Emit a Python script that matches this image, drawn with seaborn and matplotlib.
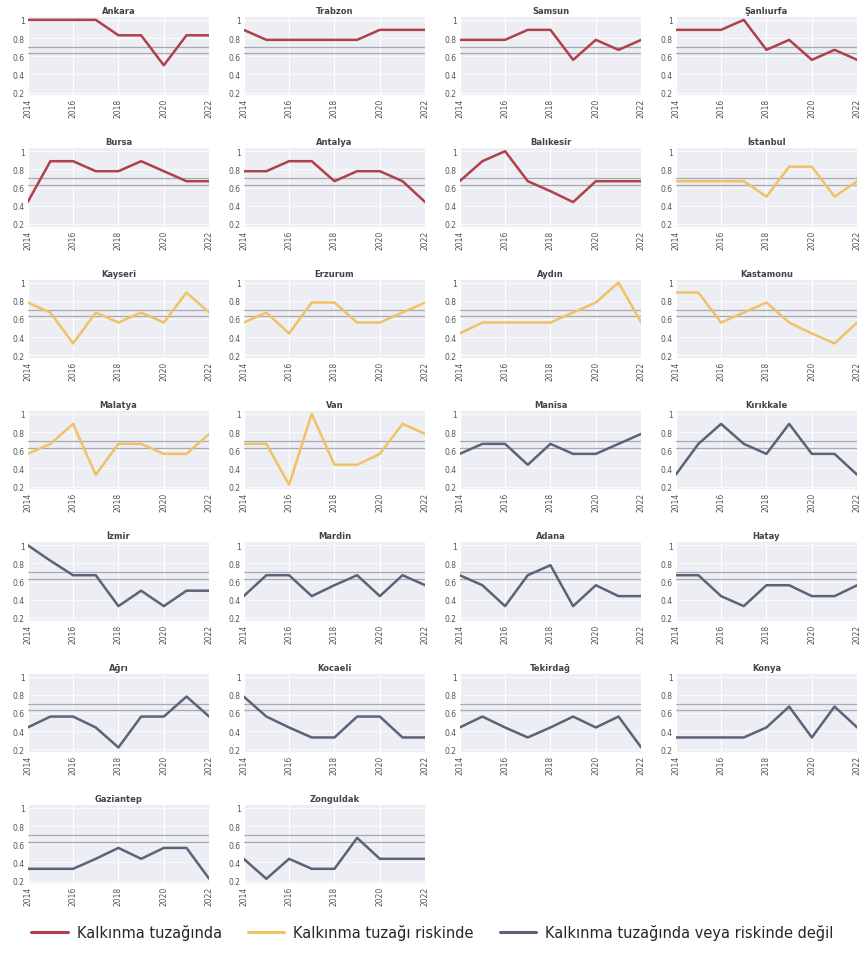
import numpy as np
import pandas as pd
import matplotlib
matplotlib.use("Agg")
import matplotlib.pyplot as plt
from matplotlib.lines import Line2D
import seaborn as sns

years = list(range(2014, 2023))

cities = ["Ankara", "Trabzon", "Samsun", "Şanlıurfa",
          "Bursa", "Antalya", "Balıkesir", "İstanbul",
          "Kayseri", "Erzurum", "Aydın", "Kastamonu",
          "Malatya", "Van", "Manisa", "Kırıkkale",
          "İzmir", "Mardin", "Adana", "Hatay",
          "Ağrı", "Kocaeli", "Tekirdağ", "Konya",
          "Gaziantep", "Zonguldak"]

# group: 0 = in trap, 1 = at risk, 2 = neither
groups = [0, 0, 0, 0,
          0, 0, 0, 1,
          1, 1, 1, 1,
          1, 1, 2, 2,
          2, 2, 2, 2,
          2, 2, 2, 2,
          2, 2]

ankara = [1, 1, 1, 1, 0.83, 0.83, 0.5, 0.83, 0.83]
trabzon = [0.89, 0.78, 0.78, 0.78, 0.78, 0.78, 0.89, 0.89, 0.89]
samsun = [0.78, 0.78, 0.78, 0.89, 0.89, 0.56, 0.78, 0.67, 0.78]
sanliurfa = [0.89, 0.89, 0.89, 1, 0.67, 0.78, 0.56, 0.67, 0.56]
bursa = [0.44, 0.89, 0.89, 0.78, 0.78, 0.89, 0.78, 0.67, 0.67]
antalya = [0.78, 0.78, 0.89, 0.89, 0.67, 0.78, 0.78, 0.67, 0.44]
balikesir = [0.67, 0.89, 1, 0.67, 0.56, 0.44, 0.67, 0.67, 0.67]
istanbul = [0.67, 0.67, 0.67, 0.67, 0.5, 0.83, 0.83, 0.5, 0.67]
kayseri = [0.78, 0.67, 0.33, 0.67, 0.56, 0.67, 0.56, 0.89, 0.67]
erzurum = [0.56, 0.67, 0.44, 0.78, 0.78, 0.56, 0.56, 0.67, 0.78]
aydin = [0.44, 0.56, 0.56, 0.56, 0.56, 0.67, 0.78, 1, 0.56]
kastamonu = [0.89, 0.89, 0.56, 0.67, 0.78, 0.56, 0.44, 0.33, 0.56]
malatya = [0.56, 0.67, 0.89, 0.33, 0.67, 0.67, 0.56, 0.56, 0.78]
van = [0.67, 0.67, 0.22, 1, 0.44, 0.44, 0.56, 0.89, 0.78]
manisa = [0.56, 0.67, 0.67, 0.44, 0.67, 0.56, 0.56, 0.67, 0.78]
kirikkale = [0.33, 0.67, 0.89, 0.67, 0.56, 0.89, 0.56, 0.56, 0.33]
izmir = [1, 0.83, 0.67, 0.67, 0.33, 0.5, 0.33, 0.5, 0.5]
mardin = [0.44, 0.67, 0.67, 0.44, 0.56, 0.67, 0.44, 0.67, 0.56]
adana = [0.67, 0.56, 0.33, 0.67, 0.78, 0.33, 0.56, 0.44, 0.44]
hatay = [0.67, 0.67, 0.44, 0.33, 0.56, 0.56, 0.44, 0.44, 0.56]
agri = [0.44, 0.56, 0.56, 0.44, 0.22, 0.56, 0.56, 0.78, 0.56]
kocaeli = [0.78, 0.56, 0.44, 0.33, 0.33, 0.56, 0.56, 0.33, 0.33]
tekirdag = [0.44, 0.56, 0.44, 0.33, 0.44, 0.56, 0.44, 0.56, 0.22]
konya = [0.33, 0.33, 0.33, 0.33, 0.44, 0.67, 0.33, 0.67, 0.44]
gaziantep = [0.33, 0.33, 0.33, 0.44, 0.56, 0.44, 0.56, 0.56, 0.22]
zonguldak = [0.44, 0.22, 0.44, 0.33, 0.33, 0.67, 0.44, 0.44, 0.44]

series = [ankara, trabzon, samsun, sanliurfa, bursa, antalya, balikesir, istanbul,
          kayseri, erzurum, aydin, kastamonu, malatya, van, manisa, kirikkale,
          izmir, mardin, adana, hatay, agri, kocaeli, tekirdag, konya,
          gaziantep, zonguldak]

thresholds = [0.63, 0.70]
group_labels = ["Kalkınma tuzağında", "Kalkınma tuzağı riskinde",
                "Kalkınma tuzağında veya riskinde değil"]
group_colors = ["#b0404a", "#f0c266", "#5b6377"]

rows = []
for city, vals in zip(cities, series):
    for y, v in zip(years, vals):
        rows.append({"city": city, "year": y, "value": v})
df = pd.DataFrame(rows)

sns.set_style("white")
fig, axes = plt.subplots(7, 4, figsize=(8.65, 9.54), dpi=100)
fig.subplots_adjust(left=0.032, right=0.991, top=0.981, bottom=0.073,
                    wspace=0.19, hspace=0.68)

for i, ax in enumerate(axes.flat):
    if i >= len(cities):
        ax.axis("off")
        continue
    city = cities[i]
    sub = df[df["city"] == city]
    ax.set_facecolor("#eceef4")
    for yr in [2014, 2016, 2018, 2020, 2022]:
        ax.axvline(yr, color="white", lw=0.8, zorder=0)
    for yv in [0.2, 0.4, 0.6, 0.8, 1.0]:
        ax.axhline(yv, color="white", lw=0.5, zorder=0)
    for t in thresholds:
        ax.axhline(t, color="#a8aab2", lw=0.9, zorder=1)
    sns.lineplot(data=sub, x="year", y="value", ax=ax,
                 color=group_colors[groups[i]], lw=1.8, zorder=3)
    ax.set_xlim(2014, 2022)
    ax.set_ylim(0.17, 1.03)
    ax.set_xticks([2014, 2016, 2018, 2020, 2022])
    ax.set_xticklabels(["2014", "2016", "2018", "2020", "2022"],
                       rotation=90, fontsize=5.5, color="#555555")
    ax.set_yticks([0.2, 0.4, 0.6, 0.8, 1.0])
    ax.set_yticklabels(["0.2", "0.4", "0.6", "0.8", "1"], fontsize=5.5, color="#555555")
    ax.tick_params(length=0, pad=2)
    ax.set_xlabel("")
    ax.set_ylabel("")
    ax.set_title(city, fontsize=6, fontweight="bold", color="#444444", pad=3)
    for spine in ax.spines.values():
        spine.set_visible(False)

handles = [Line2D([0], [0], color=c, lw=2.2) for c in group_colors]
fig.legend(handles, group_labels, loc="lower center", ncol=3, frameon=False,
           fontsize=10.5, bbox_to_anchor=(0.5, 0.0), handlelength=2.5,
           columnspacing=1.8, handletextpad=0.6)

fig.savefig("out.png", dpi=100)
